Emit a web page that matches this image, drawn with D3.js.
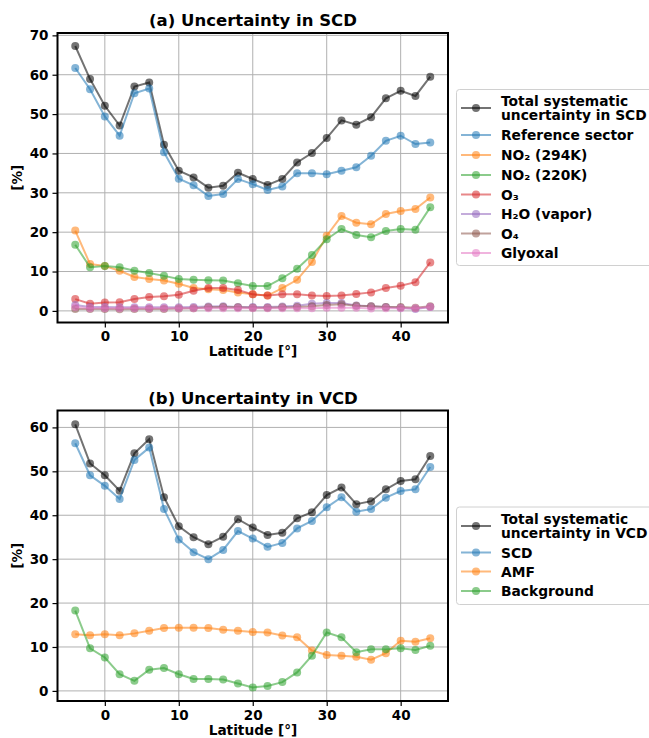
<!DOCTYPE html>
<html>
<head>
<meta charset="utf-8">
<script src="https://cdn.jsdelivr.net/npm/d3@7"></script>
<style>
  body { margin: 0; background: #fff; }
  svg text { font-family: "DejaVu Sans", sans-serif; font-weight: bold; }
</style>
</head>
<body>
<svg id="chart" width="649" height="738"></svg>
<script>
// latitudes, shared by both panels
const lat = [-4, -2, 0, 2, 4, 6, 8, 10, 12, 14, 16, 18, 20, 22, 24, 26, 28, 30, 32, 34, 36, 38, 40, 42, 44];
const xTicks = [0, 10, 20, 30, 40];

// (a) SCD components
const totalSCD = [67.3, 58.9, 52.1, 47.1, 57.0, 58.0, 42.2, 35.6, 33.9, 31.3, 31.8, 35.1, 33.5, 32.0, 33.5, 37.7, 40.1, 43.9, 48.4, 47.3, 49.2, 54.0, 55.9, 54.6, 59.5];
const refSector = [61.7, 56.3, 49.4, 44.5, 55.3, 56.5, 40.3, 33.6, 31.9, 29.2, 29.7, 33.5, 32.2, 30.7, 31.6, 35.0, 35.0, 34.7, 35.6, 36.5, 39.4, 43.2, 44.5, 42.4, 42.8];
const no2_294 = [20.4, 11.9, 11.4, 10.2, 8.6, 8.1, 7.7, 6.9, 5.8, 5.5, 5.3, 4.7, 4.2, 3.9, 5.8, 7.9, 12.4, 19.1, 24.1, 22.4, 22.0, 24.6, 25.4, 25.9, 28.8];
const no2_220 = [16.8, 11.1, 11.4, 11.1, 10.2, 9.6, 8.9, 8.1, 7.9, 7.8, 7.7, 7.0, 6.3, 6.3, 8.3, 10.7, 14.2, 18.2, 20.8, 19.3, 18.7, 20.3, 20.8, 20.6, 26.3];
const o3 = [3.0, 1.8, 2.1, 2.2, 3.0, 3.5, 3.7, 4.1, 5.1, 5.8, 5.8, 5.3, 4.2, 3.9, 4.2, 4.2, 3.9, 3.8, 3.9, 4.3, 4.7, 5.8, 6.4, 7.3, 12.3];
const h2o = [1.5, 1.0, 1.0, 0.9, 0.9, 0.9, 0.9, 0.9, 1.0, 1.1, 1.2, 1.0, 1.0, 1.0, 1.1, 1.3, 1.8, 2.0, 2.0, 1.4, 1.2, 1.0, 0.8, 0.5, 1.0];
const o4 = [0.5, 0.5, 0.5, 0.4, 0.5, 0.5, 0.5, 0.6, 0.7, 0.9, 1.0, 0.9, 0.8, 0.8, 0.9, 1.0, 1.2, 1.5, 1.7, 1.3, 1.2, 1.0, 1.0, 0.8, 1.2];
const glyoxal = [1.0, 0.7, 0.7, 0.7, 0.7, 0.7, 0.7, 0.7, 0.7, 0.7, 0.7, 0.7, 0.7, 0.7, 0.7, 0.7, 0.7, 0.8, 0.8, 0.8, 0.6, 0.7, 0.7, 0.7, 1.0];
const scdNames = [["Total systematic", "uncertainty in SCD"], "Reference sector", "NO₂ (294K)", "NO₂ (220K)", "O₃", "H₂O (vapor)", "O₄", "Glyoxal"];
const scdTicks = [0, 10, 20, 30, 40, 50, 60, 70];

// (b) VCD components
const totalVCD = [60.7, 51.8, 49.1, 45.6, 54.1, 57.3, 44.1, 37.5, 35.0, 33.4, 35.1, 39.1, 37.2, 35.5, 36.0, 39.3, 40.7, 44.6, 46.3, 42.5, 43.2, 45.9, 47.8, 48.2, 53.5];
const scdPart = [56.4, 49.1, 46.7, 43.7, 52.6, 55.4, 41.4, 34.5, 31.6, 30.0, 32.1, 36.4, 34.7, 32.8, 33.7, 37.0, 38.7, 41.8, 44.1, 40.8, 41.4, 44.0, 45.5, 45.9, 51.0];
const amf = [12.9, 12.7, 12.9, 12.7, 13.1, 13.7, 14.3, 14.4, 14.4, 14.3, 13.9, 13.7, 13.4, 13.3, 12.6, 12.2, 9.2, 8.2, 8.0, 7.8, 7.1, 8.6, 11.4, 11.2, 12.0];
const background = [18.3, 9.7, 7.6, 3.8, 2.3, 4.8, 5.2, 3.8, 2.7, 2.7, 2.6, 1.7, 0.8, 1.1, 2.0, 4.2, 8.0, 13.3, 12.2, 8.8, 9.5, 9.5, 9.7, 9.3, 10.3];
const vcdNames = [["Total systematic", "uncertainty in VCD"], "SCD", "AMF", "Background"];
const vcdTicks = [0, 10, 20, 30, 40, 50, 60];

const colors = ["#000000", "#1f77b4", "#ff7f0e", "#2ca02c", "#d62728", "#9467bd", "#8c564b", "#e377c2"];

const svg = d3.select('#chart');
svg.append('rect').attr('width', 649).attr('height', 738).attr('fill', '#fff');

function drawPanel(opt) {
	const x = d3.scaleLinear().domain([-6.4, 46.4]).range([57.5, 448]);
	const y = d3.scaleLinear().domain(opt.yDomain).range([opt.bottom, opt.top]);
	const g = svg.append('g');

	// grid
	g.selectAll('line.gx').data(xTicks).enter().append('line')
		.attr('x1', d => x(d)).attr('x2', d => x(d))
		.attr('y1', opt.top).attr('y2', opt.bottom)
		.attr('stroke', '#b0b0b0').attr('stroke-width', 1);
	g.selectAll('line.gy').data(opt.yTicks).enter().append('line')
		.attr('x1', 57.5).attr('x2', 448)
		.attr('y1', d => y(d)).attr('y2', d => y(d))
		.attr('stroke', '#b0b0b0').attr('stroke-width', 1);

	// series
	const line = d3.line().x((d, i) => x(lat[i])).y(d => y(d));
	opt.series.forEach((s, k) => {
		const sg = g.append('g');
		sg.append('path').datum(s)
			.attr('d', line)
			.attr('fill', 'none')
			.attr('stroke', colors[k])
			.attr('stroke-opacity', 0.55)
			.attr('stroke-width', 2);
		sg.selectAll('circle').data(s).enter().append('circle')
			.attr('cx', (d, i) => x(lat[i]))
			.attr('cy', d => y(d))
			.attr('r', 4)
			.attr('fill', colors[k])
			.attr('fill-opacity', 0.55);
	});

	// axes
	const xAxis = g.append('g').attr('transform', `translate(0,${opt.bottom})`)
		.call(d3.axisBottom(x).tickValues(xTicks).tickSize(5).tickPadding(4));
	const yAxis = g.append('g').attr('transform', 'translate(57.5,0)')
		.call(d3.axisLeft(y).tickValues(opt.yTicks).tickSize(5).tickPadding(4));
	[xAxis, yAxis].forEach(a => {
		a.select('.domain').remove();
		a.selectAll('line').attr('stroke', '#000').attr('stroke-width', 1.2);
		a.selectAll('text').attr('font-size', 13.5).attr('fill', '#000')
			.attr('font-family', '"DejaVu Sans", sans-serif').attr('font-weight', 'bold');
	});

	g.append('rect')
		.attr('x', 57.5).attr('y', opt.top)
		.attr('width', 448 - 57.5).attr('height', opt.bottom - opt.top)
		.attr('fill', 'none').attr('stroke', '#000').attr('stroke-width', 2);

	// titles and labels
	g.append('text').attr('x', 253).attr('y', opt.top - 7)
		.attr('text-anchor', 'middle').attr('font-size', 16.5).text(opt.title);
	g.append('text').attr('x', 253).attr('y', opt.bottom + 33.5)
		.attr('text-anchor', 'middle').attr('font-size', 13.7).text('Latitude [°]');
	g.append('text')
		.attr('transform', `translate(22,${(opt.top + opt.bottom) / 2}) rotate(-90)`)
		.attr('text-anchor', 'middle').attr('font-size', 13.7).text('[%]');

	// legend
	const lg = g.append('g');
	lg.append('rect')
		.attr('x', 456.5).attr('y', opt.legTop)
		.attr('width', 210).attr('height', opt.legHeight)
		.attr('rx', 3).attr('fill', '#fff').attr('fill-opacity', 0.8)
		.attr('stroke', '#d0d0d0').attr('stroke-width', 1);
	opt.names.forEach((name, k) => {
		const ly = opt.legRows[k];
		lg.append('line').attr('x1', 461).attr('x2', 491).attr('y1', ly).attr('y2', ly)
			.attr('stroke', colors[k]).attr('stroke-opacity', 0.55).attr('stroke-width', 2);
		lg.append('circle').attr('cx', 476).attr('cy', ly).attr('r', 4)
			.attr('fill', colors[k]).attr('fill-opacity', 0.55);
		const t = lg.append('text').attr('x', 501).attr('font-size', 13.8);
		if (Array.isArray(name)) {
			t.attr('y', ly - 2.5).text(name[0]);
			lg.append('text').attr('x', 501).attr('y', ly + 12).attr('font-size', 13.8).text(name[1]);
		} else {
			t.attr('y', ly + 5).text(name);
		}
	});
}

drawPanel({
	title: '(a) Uncertainty in SCD',
	top: 33, bottom: 322.5,
	yDomain: [-2.95, 70.6],
	yTicks: scdTicks,
	series: [totalSCD, refSector, no2_294, no2_220, o3, h2o, o4, glyoxal],
	names: scdNames,
	legTop: 89.5, legHeight: 176,
	legRows: [108, 135, 155, 175, 194.5, 214, 233.5, 253]
});

drawPanel({
	title: '(b) Uncertainty in VCD',
	top: 410.5, bottom: 701,
	yDomain: [-2.3, 63.85],
	yTicks: vcdTicks,
	series: [totalVCD, scdPart, amf, background],
	names: vcdNames,
	legTop: 507, legHeight: 97.5,
	legRows: [526, 552.5, 571.5, 591]
});
</script>
</body>
</html>
